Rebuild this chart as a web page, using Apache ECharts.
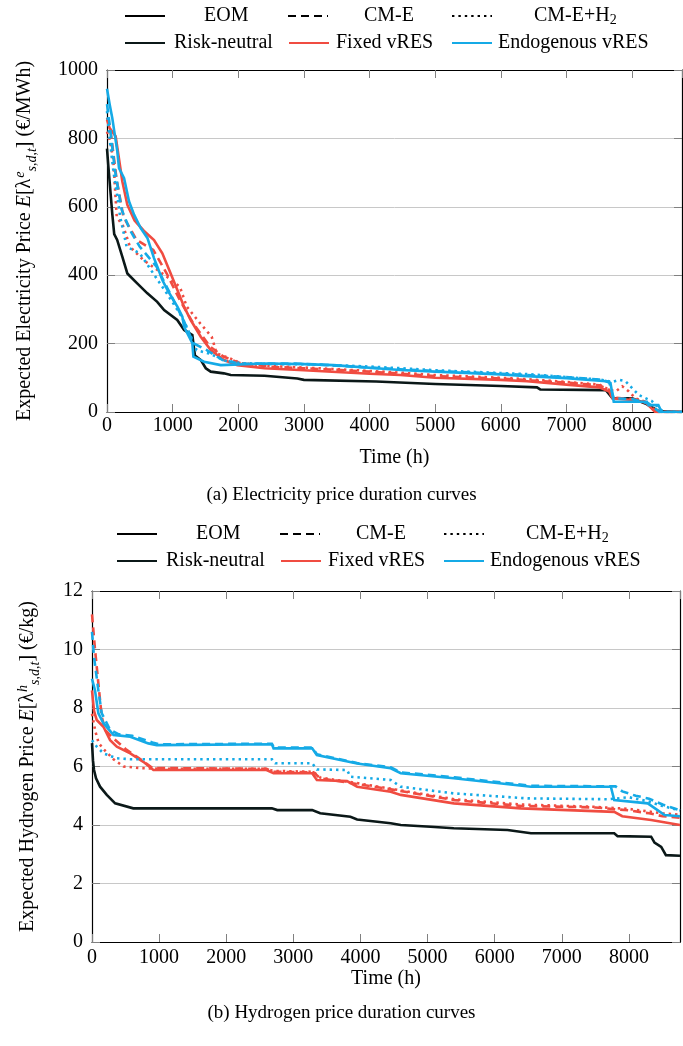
<!DOCTYPE html>
<html><head><meta charset="utf-8">
<script src="https://cdn.jsdelivr.net/npm/echarts@6/dist/echarts.min.js"></script>
<style>html,body{margin:0;padding:0;background:#fff}#c{width:683px;height:1046px}</style>
</head><body><div id="c"></div>
<script>
// ---- Data (hours, value) ----
const xTicks = [0,1000,2000,3000,4000,5000,6000,7000,8000];
const elecTicks = [0,200,400,600,800,1000];
const h2Ticks = [0,2,4,6,8,10,12];

const elecRiskNeutral = [[0,770],[20,720],[50,650],[80,580],[110,520],[155,503],[233,454],[310,405],[460,376],[615,347],[765,322],[870,298],[1070,269],[1175,240],[1300,225],[1320,195],[1340,165],[1430,152],[1505,128],[1580,118],[1780,113],[1885,108],[2400,106],[2900,98],[3000,94],[4100,89],[5000,82],[6000,76],[6550,72],[6600,66],[7600,64],[7700,40],[8000,40],[8200,25],[8400,3],[8760,0]];
const elecFixedEOM = [[0,855],[40,830],[132,806],[233,675],[310,606],[420,560],[560,530],[716,503],[843,464],[970,405],[1072,357],[1174,308],[1275,269],[1428,220],[1580,181],[1783,152],[1987,137],[2400,128],[3000,122],[4000,112],[4470,108],[5000,100],[6000,94],[6400,90],[7000,80],[7500,72],[7650,60],[7700,40],[8000,35],[8200,28],[8300,10],[8350,0],[8760,0]];
const elecFixedCME = [[0,860],[45,835],[148,678],[250,571],[450,503],[705,474],[910,405],[1110,327],[1315,259],[1570,191],[1775,162],[2030,143],[2500,132],[3000,128],[4000,118],[4470,112],[5000,105],[6000,98],[6400,93],[7000,86],[7500,78],[7650,65],[7720,42],[8000,38],[8200,30],[8320,8],[8380,0],[8760,0]];
const elecFixedCMEH2 = [[0,820],[50,790],[96,737],[148,571],[250,542],[350,483],[555,444],[910,396],[1110,366],[1215,308],[1420,259],[1595,220],[1670,171],[1875,157],[2030,143],[2500,134],[3000,130],[4000,120],[4470,115],[5000,108],[6000,100],[6400,96],[7000,88],[7500,80],[7650,65],[7750,60],[7850,75],[7950,60],[8050,40],[8200,30],[8350,5],[8400,0],[8760,0]];
const elecEndoEOM = [[0,945],[40,900],[80,860],[157,762],[183,713],[260,684],[335,616],[412,577],[513,538],[615,509],[716,450],[767,425],[843,386],[920,357],[1072,308],[1148,279],[1174,249],[1250,220],[1300,201],[1316,162],[1479,147],[1733,137],[2400,142],[3000,140],[3450,137],[4470,123],[5000,118],[6000,110],[6400,105],[7000,99],[7600,90],[7670,85],[7720,30],[8225,30],[8250,20],[8400,20],[8450,0],[8760,0]];
const elecEndoCME = [[0,900],[45,834],[120,708],[225,591],[350,532],[500,483],[755,425],[960,347],[1165,269],[1315,201],[1520,181],[1760,152],[2030,141],[2500,142],[3000,141],[4000,130],[4470,125],[5000,120],[6000,112],[6400,108],[7000,102],[7500,95],[7650,88],[7720,40],[8000,38],[8250,25],[8420,0],[8760,0]];
const elecEndoCMEH2 = [[0,880],[40,800],[100,700],[150,640],[200,571],[300,483],[500,464],[705,405],[910,347],[1110,288],[1215,249],[1365,181],[1570,170],[1800,150],[2030,143],[2500,140],[3000,140],[4000,133],[4470,128],[5000,122],[6000,114],[6400,111],[7000,102],[7500,95],[7700,88],[7800,94],[7900,90],[8000,70],[8100,50],[8300,32],[8450,5],[8500,0],[8760,0]];

const h2RiskNeutral = [[0,6.8],[15,6.2],[30,5.88],[60,5.6],[120,5.31],[220,5.03],[345,4.74],[615,4.57],[2680,4.57],[2760,4.51],[3280,4.51],[3400,4.40],[3850,4.28],[3950,4.19],[4450,4.06],[4600,4.0],[5045,3.94],[5390,3.89],[6190,3.83],[6540,3.72],[7780,3.72],[7830,3.62],[8330,3.6],[8380,3.4],[8480,3.25],[8550,2.97],[8760,2.95]];
const h2FixedEOM = [[0,8.6],[30,7.9],[70,7.59],[170,7.36],[270,6.9],[370,6.68],[570,6.45],[765,6.16],[915,5.88],[2600,5.88],[2705,5.77],[3280,5.77],[3350,5.54],[3800,5.5],[3950,5.31],[4450,5.14],[4600,5.03],[5390,4.74],[6390,4.57],[7780,4.45],[7900,4.3],[8330,4.17],[8760,4.0]];
const h2FixedCME = [[0,11.2],[45,10.0],[95,8.84],[145,7.7],[195,7.25],[300,7.0],[500,6.6],[750,6.2],[900,5.95],[2600,5.92],[2700,5.82],[3300,5.8],[3400,5.6],[3900,5.42],[4500,5.2],[5400,4.85],[6400,4.65],[7500,4.6],[8000,4.5],[8300,4.4],[8500,4.3],[8760,4.25]];
const h2FixedCMEH2 = [[0,7.8],[50,7.2],[100,6.8],[170,6.6],[320,6.25],[470,6.0],[700,5.95],[1000,5.92],[2600,5.92],[2700,5.85],[3300,5.82],[3400,5.62],[3900,5.45],[4500,5.22],[5400,4.88],[6400,4.7],[7500,4.62],[8000,4.55],[8500,4.4],[8760,4.35]];
const h2EndoEOM = [[0,9.0],[45,8.6],[95,7.82],[170,7.48],[320,7.08],[570,7.02],[840,6.79],[965,6.73],[2680,6.76],[2705,6.62],[3280,6.62],[3350,6.39],[3950,6.1],[4450,5.94],[4600,5.77],[5390,5.6],[6540,5.31],[7730,5.31],[7780,4.85],[8280,4.74],[8530,4.34],[8760,4.3]];
const h2EndoCME = [[0,10.6],[30,9.75],[95,8.6],[145,7.82],[270,7.25],[400,7.1],[600,7.05],[900,6.82],[1000,6.76],[2680,6.78],[2710,6.65],[3280,6.65],[3350,6.42],[3950,6.12],[4450,5.97],[4600,5.8],[5400,5.63],[6540,5.34],[7800,5.32],[7900,5.15],[8100,5.0],[8300,4.9],[8500,4.7],[8760,4.5]];
const h2EndoCMEH2 = [[0,6.9],[70,6.68],[170,6.45],[370,6.28],[570,6.25],[2680,6.25],[2730,6.11],[3280,6.11],[3350,5.9],[3800,5.88],[3850,5.65],[4450,5.54],[4600,5.31],[5390,5.08],[6490,4.91],[7700,4.88],[8000,4.95],[8300,4.8],[8500,4.65],[8760,4.5]];

// ---- Styles ----
const FONT = 'Liberation Serif';
const C_BLACK = '#0b1818', C_RED = '#f04c41', C_BLUE = '#15aae6';
const DASH = [8,5], DOT = [2.4,4];
const LW = 2.6;

function ser(name, data, color, type, gi){
  return {name, type:'line', data, xAxisIndex: gi*2, yAxisIndex: gi*2, showSymbol:false, symbol:'none',
    lineStyle:{color, width:LW, type, cap:'butt', join:'miter'}, itemStyle:{color}, animation:false, z:2};
}
function dummy(name, color, type){
  return {name, type:'line', data:[], xAxisIndex:0, yAxisIndex:0, symbol:'none', showSymbol:false,
    lineStyle:{color, width:LW+0.3, type}, itemStyle:{color, opacity:0}};
}
const legendText = {fontFamily:FONT, fontSize:20, color:'#000',
  rich:{t:{fontFamily:FONT,fontSize:20,color:'#000'}, s:{fontFamily:FONT,fontSize:14,color:'#000',verticalAlign:'bottom',padding:[8,0,0,0]}}};
function leg(name, left, cy, pad){
  return {data:[name], left, top: cy-11, itemWidth:40, itemHeight:14, selectedMode:false, padding:0,
    itemStyle:{opacity:0},
    textStyle:Object.assign({}, legendText, {padding:[0,0,0,pad]}),
    formatter: n => n==='CM-E+H2' ? '{t|CM-E+H}{s|2}' : n};
}
function legendsFor(dx, y1, y2){
  return [
    leg('EOM', 124+dx, y1, 34), leg('CM-E', 287+dx, y1, 31), leg('CM-E+H2', 451+dx, y1, 37),
    leg('Risk-neutral', 124+dx, y2, 4), leg('Fixed vRES', 288+dx, y2, 2), leg('Endogenous vRES', 451+dx, y2, 1)
  ];
}
const tickStyle = {show:true, inside:true, length:8, lineStyle:{color:'#808080', width:1}};
const axLine = {show:true, onZero:false, lineStyle:{color:'#000', width:1.2}};
const lbl = {fontFamily:FONT, fontSize:20, color:'#000'};
const plain = v => String(v);
function xAxes(gi, gap, margin){
  return [
    {gridIndex:gi, type:'value', min:0, max:8760, interval:1000, position:'bottom', axisLine:axLine, axisTick:tickStyle,
      axisLabel:Object.assign({margin, showMaxLabel:false, formatter:plain}, lbl), splitLine:{show:false},
      name:'Time (h)', nameLocation:'middle', nameGap:gap, nameTextStyle:lbl},
    {gridIndex:gi, type:'value', min:0, max:8760, interval:1000, position:'top', axisLine:axLine, axisTick:tickStyle,
      axisLabel:{show:false}, splitLine:{show:false}}
  ];
}
const richName = {
  t:{fontFamily:FONT, fontSize:20, color:'#000', lineHeight:28},
  i:{fontFamily:FONT, fontSize:20, fontStyle:'italic', color:'#000', lineHeight:28},
  sup:{fontFamily:FONT, fontSize:14, fontStyle:'italic', color:'#000', verticalAlign:'top', lineHeight:28, padding:[2,0,0,1]},
  sub:{fontFamily:FONT, fontSize:14, fontStyle:'italic', color:'#000', verticalAlign:'bottom', lineHeight:28, padding:[0,0,0,0]}
};
function yAxes(gi, max, interval, name, gap){
  return [
    {gridIndex:gi, type:'value', min:0, max, interval, position:'left', axisLine:axLine, axisTick:tickStyle,
      axisLabel:Object.assign({margin:9, formatter:plain}, lbl), splitLine:{show:true, lineStyle:{color:'#c8c8c8', width:1}},
      name, nameLocation:'middle', nameGap:gap, nameRotate:90, nameTextStyle:{fontFamily:FONT, fontSize:20, color:'#000', rich:richName}},
    {gridIndex:gi, type:'value', min:0, max, interval, position:'right', axisLine:axLine, axisTick:tickStyle,
      axisLabel:{show:false}, splitLine:{show:false}}
  ];
}

const chart = echarts.init(document.getElementById('c'), null, {renderer:'canvas'});
chart.setOption({
  animation:false,
  backgroundColor:'#fff',
  title:[
    {text:'(a) Electricity price duration curves', left:'center', top:481, textStyle:{fontFamily:FONT, fontSize:19, fontWeight:'normal', color:'#000'}},
    {text:'(b) Hydrogen price duration curves', left:'center', top:999, textStyle:{fontFamily:FONT, fontSize:19, fontWeight:'normal', color:'#000'}}
  ],
  legend: legendsFor(0, 17, 44).concat(legendsFor(-8, 535, 562)),
  grid:[
    {left:107, top:70, width:575, height:342, containLabel:false, outerBoundsMode:'none'},
    {left:92, top:591, width:588, height:351, containLabel:false, outerBoundsMode:'none'}
  ],
  xAxis: xAxes(0, 36, 4).concat(xAxes(1, 23, 6)),
  yAxis: yAxes(0, 1000, 200, '{t|Expected Electricity Price }{i|E}{t|[λ}{sup|e}{sub|s,d,t}{t|] (€/MWh)}', 68)
    .concat(yAxes(1, 12, 2, '{t|Expected Hydrogen Price }{i|E}{t|[λ}{sup|h}{sub|s,d,t}{t|] (€/kg)}', 50)),
  series:[
    dummy('EOM','#000','solid'), dummy('CM-E','#000',DASH), dummy('CM-E+H2','#000',DOT),
    dummy('Risk-neutral',C_BLACK,'solid'), dummy('Fixed vRES',C_RED,'solid'), dummy('Endogenous vRES',C_BLUE,'solid'),
    ser('e-RN', elecRiskNeutral, C_BLACK, 'solid', 0),
    ser('e-F-EOM', elecFixedEOM, C_RED, 'solid', 0),
    ser('e-F-CME', elecFixedCME, C_RED, DASH, 0),
    ser('e-F-CMEH2', elecFixedCMEH2, C_RED, DOT, 0),
    ser('e-E-EOM', elecEndoEOM, C_BLUE, 'solid', 0),
    ser('e-E-CME', elecEndoCME, C_BLUE, DASH, 0),
    ser('e-E-CMEH2', elecEndoCMEH2, C_BLUE, DOT, 0),
    ser('h-RN', h2RiskNeutral, C_BLACK, 'solid', 1),
    ser('h-F-EOM', h2FixedEOM, C_RED, 'solid', 1),
    ser('h-F-CME', h2FixedCME, C_RED, DASH, 1),
    ser('h-F-CMEH2', h2FixedCMEH2, C_RED, DOT, 1),
    ser('h-E-EOM', h2EndoEOM, C_BLUE, 'solid', 1),
    ser('h-E-CME', h2EndoCME, C_BLUE, DASH, 1),
    ser('h-E-CMEH2', h2EndoCMEH2, C_BLUE, DOT, 1)
  ]
});
</script></body></html>
